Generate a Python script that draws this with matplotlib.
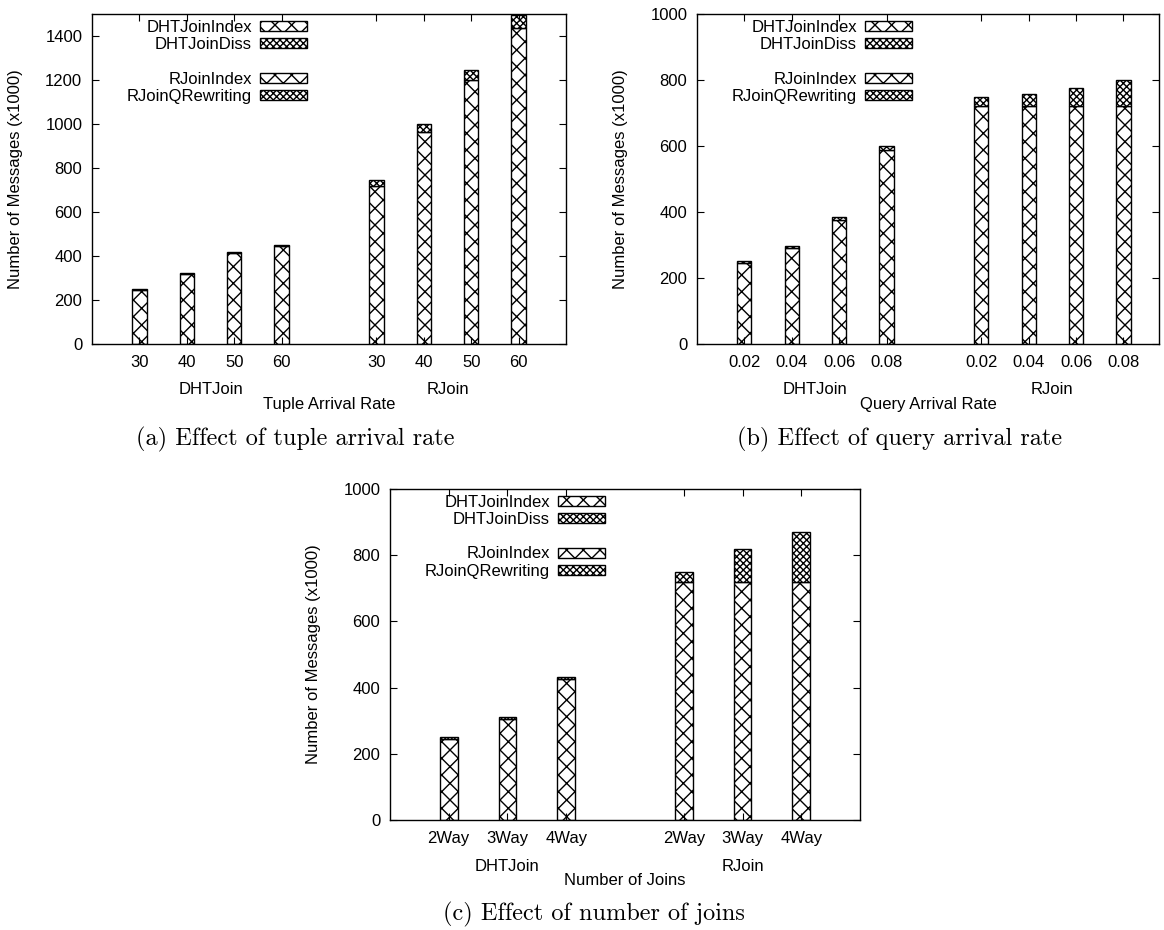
import matplotlib
matplotlib.use("Agg")
import matplotlib.pyplot as plt
from matplotlib.patches import Patch
from matplotlib.transforms import blended_transform_factory
import numpy as np

# ---------------- data ----------------
groups = ["DHTJoin", "RJoin"]
series_labels = ["DHTJoinIndex", "DHTJoinDiss", "RJoinIndex", "RJoinQRewriting"]

# (a) tuple arrival rate
a_ticks = ["30", "40", "50", "60"]
a_dht_index = [245, 318, 412, 447]
a_dht_diss = [6, 5, 5, 5]
a_rj_index = [720, 962, 1202, 1437]
a_rj_rewr = [27, 39, 44, 57]

# (b) query arrival rate
b_ticks = ["0.02", "0.04", "0.06", "0.08"]
b_dht_index = [245, 292, 376, 588]
b_dht_diss = [5, 6, 10, 13]
b_rj_index = [720, 720, 720, 720]
b_rj_rewr = [27, 37, 56, 81]

# (c) number of joins
c_ticks = ["2Way", "3Way", "4Way"]
c_dht_index = [245, 306, 426]
c_dht_diss = [6, 6, 6]
c_rj_index = [720, 720, 720]
c_rj_rewr = [28, 100, 151]

xlabels = ["Tuple Arrival Rate", "Query Arrival Rate", "Number of Joins"]
captions = ["(a) Effect of tuple arrival rate",
            "(b) Effect of query arrival rate",
            "(c) Effect of number of joins"]
ylabel = "Number of Messages (x1000)"

# ---------------- style ----------------
plt.rcParams["font.family"] = ["Liberation Sans", "DejaVu Sans"]
plt.rcParams["hatch.linewidth"] = 1.0
FS = 12
H_IDX = "xx"
H_DIS = "xxxxx"

W, H = 1164, 930
fig = plt.figure(figsize=(W / 100, H / 100), dpi=100)


def ax_at(l, t, r, b):
    return fig.add_axes([l / W, 1 - b / H, (r - l) / W, (b - t) / H])


def panel(ax, ticks, dI, dD, rI, rR, ymax, yticks_max, xmax, xlabel):
    n = len(ticks)
    xd = np.arange(1, n + 1)
    xr = np.arange(n + 2, 2 * n + 2)
    bw = 0.3
    kw = dict(width=bw, edgecolor="black", linewidth=1.0, facecolor="white")
    ax.bar(xd, dI, hatch=H_IDX, **kw)
    ax.bar(xd, dD, bottom=dI, hatch=H_DIS, **kw)
    ax.bar(xr, rI, hatch=H_IDX, **kw)
    ax.bar(xr, rR, bottom=rI, hatch=H_DIS, **kw)
    ax.set_xlim(0, xmax)
    ax.set_ylim(0, ymax)
    ax.set_yticks(np.arange(0, yticks_max + 1, 200))
    ax.set_xticks(np.concatenate([xd, xr]))
    ax.set_xticklabels(list(ticks) + list(ticks))
    ax.tick_params(direction="in", top=True, right=True, length=5, width=0.8,
                   labelsize=FS, pad=7)
    ax.tick_params(axis="x", length=5, pad=8)
    for s in ax.spines.values():
        s.set_linewidth(1.0)
    wpx = ax.get_position().width * W
    hpx = ax.get_position().height * H
    ax.set_ylabel(ylabel, fontsize=FS)
    ax.yaxis.set_label_coords(-69 / wpx, 0.5)
    tr = blended_transform_factory(ax.transData, ax.transAxes)
    ax.text(xd.mean(), -46 / hpx, groups[0], transform=tr, ha="center", va="center", fontsize=FS)
    ax.text(xr.mean(), -46 / hpx, groups[1], transform=tr, ha="center", va="center", fontsize=FS)
    ax.text(0.5, -60 / hpx, xlabel, transform=ax.transAxes, ha="center", va="center", fontsize=FS)

    handles = [Patch(facecolor="white", edgecolor="black", hatch=H_IDX, linewidth=1.0),
               Patch(facecolor="white", edgecolor="black", hatch=H_DIS, linewidth=1.0),
               Patch(visible=False),
               Patch(facecolor="white", edgecolor="black", hatch=H_IDX, linewidth=1.0),
               Patch(facecolor="white", edgecolor="black", hatch=H_DIS, linewidth=1.0)]
    labels = [series_labels[0], series_labels[1], "RJoinIndex", series_labels[2], series_labels[3]]
    leg = ax.legend(handles, labels, loc="upper right",
                    bbox_to_anchor=(215 / wpx, 1 - 6 / hpx), frameon=False, markerfirst=False,
                    fontsize=FS, handlelength=2.8, handleheight=0.55, handletextpad=0.5,
                    labelspacing=0.13, borderpad=0, borderaxespad=0)
    leg.get_texts()[2].set_color("none")


axa = ax_at(92, 14, 566, 344)
panel(axa, a_ticks, a_dht_index, a_dht_diss, a_rj_index, a_rj_rewr, 1500, 1400, 10, xlabels[0])

axb = ax_at(697, 14, 1159, 344)
panel(axb, b_ticks, b_dht_index, b_dht_diss, b_rj_index, b_rj_rewr, 1000, 1000, 9.75, xlabels[1])

axc = ax_at(390, 489, 860, 820)
panel(axc, c_ticks, c_dht_index, c_dht_diss, c_rj_index, c_rj_rewr, 1000, 1000, 8, xlabels[2])

cap_font = dict(family="cmr10", fontsize=17.5, ha="center", va="center")
fig.text(295 / W, 1 - 439 / H, captions[0], **cap_font)
fig.text(900 / W, 1 - 439 / H, captions[1], **cap_font)
fig.text(594 / W, 1 - 914 / H, captions[2], **cap_font)

fig.savefig("out.png", dpi=100)
